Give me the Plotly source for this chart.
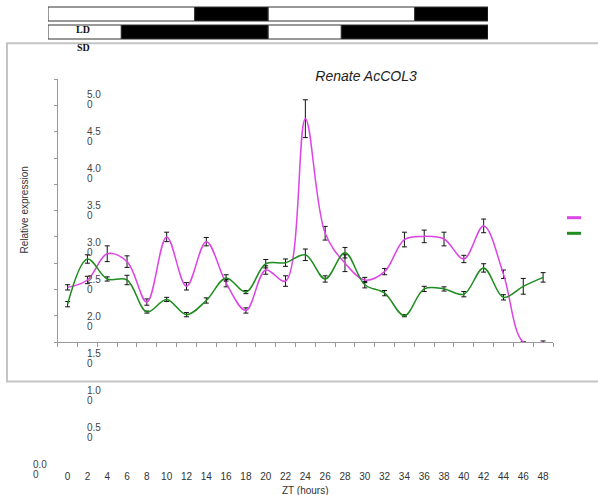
import plotly.graph_objects as go

W, H = 598, 495

# ---------------- data ----------------
zt = list(range(0, 49, 2))
ld_sd_magenta = [1.04, 1.18, 1.68, 1.53, 0.76, 2.00, 1.06, 1.91, 1.12, 0.60, 1.37, 1.16, 4.25,
                 2.07, 1.50, 1.18, 1.34, 1.95, 2.01, 1.96, 1.58, 2.21, 1.29, 0.0, 0.0]
err_magenta = [0.05, 0.07, 0.15, 0.11, 0.06, 0.09, 0.07, 0.08, 0.07, 0.05, 0.08, 0.10, 0.36,
               0.13, 0.16, 0.05, 0.06, 0.14, 0.12, 0.13, 0.07, 0.13, 0.08, 0.0, 0.02]
green = [0.72, 1.58, 1.20, 1.18, 0.57, 0.81, 0.52, 0.79, 1.22, 0.95, 1.49, 1.51, 1.66,
         1.20, 1.70, 1.09, 0.93, 0.50, 1.01, 1.01, 0.91, 1.41, 0.85, 1.06, 1.23]
err_green = [0.05, 0.08, 0.04, 0.09, 0.02, 0.04, 0.04, 0.05, 0.06, 0.03, 0.08, 0.07, 0.11,
             0.06, 0.10, 0.06, 0.05, 0.02, 0.05, 0.04, 0.05, 0.08, 0.05, 0.15, 0.09]

ytick_vals = [0.0, 0.5, 1.0, 1.5, 2.0, 2.5, 3.0, 3.5, 4.0, 4.5, 5.0]
ytick_text = ["0.00", "0.50", "1.00", "1.50", "2.00", "2.50", "3.00", "3.50", "4.00", "4.50", "5.00"]

# light/dark schedule (hours)
photo_rows = ["LD", "LD", "SD", "SD"]
light_start = [0, 24, 0, 24]
light_len = [16, 16, 8, 8]
dark_start = [16, 40, 8, 32]
dark_len = [8, 8, 16, 16]

MAG = "#dd44e6"
GRN = "#1e8c1e"


def py(p):
    return 1 - p / H


def px(p):
    return p / W


fig = go.Figure()

fig.add_trace(go.Scatter(
    x=zt, y=ld_sd_magenta, mode="lines", line=dict(color=MAG, width=1.5, shape="spline", smoothing=1),
    error_y=dict(type="data", array=err_magenta, color="#111", thickness=1, width=2.5),
    showlegend=False, hoverinfo="skip"))
fig.add_trace(go.Scatter(
    x=zt, y=green, mode="lines", line=dict(color=GRN, width=1.5, shape="spline", smoothing=1),
    error_y=dict(type="data", array=err_green, color="#111", thickness=1, width=2.5),
    showlegend=False, hoverinfo="skip"))

# dummy trace to create the label axes subplot
fig.add_trace(go.Scatter(x=zt, y=[None] * len(zt), xaxis="x2", yaxis="y2",
                         showlegend=False, hoverinfo="skip"))

# photoperiod bars
fig.add_trace(go.Bar(y=photo_rows, x=light_len, base=light_start, orientation="h",
                     marker=dict(color="white", line=dict(color="#333", width=1)),
                     xaxis="x3", yaxis="y3", showlegend=False, hoverinfo="skip"))
fig.add_trace(go.Bar(y=photo_rows, x=dark_len, base=dark_start, orientation="h",
                     marker=dict(color="black", line=dict(color="#333", width=1)),
                     xaxis="x3", yaxis="y3", showlegend=False, hoverinfo="skip"))

x_dom = [px(57.7), px(553)]

annotations = []
# misplaced tick labels
for v, t in zip(ytick_vals, ytick_text):
    xl = px(31) if v == 0 else px(85)
    annotations.append(dict(x=xl, xref="paper", y=v, yref="y2", text=t[:3], showarrow=False,
                            xanchor="left", yanchor="middle", yshift=5,
                            font=dict(family="Liberation Sans, Arial", size=10, color="#444")))
    annotations.append(dict(x=xl, xref="paper", y=v, yref="y2", text=t[3:], showarrow=False,
                            xanchor="left", yanchor="middle", yshift=-5,
                            font=dict(family="Liberation Sans, Arial", size=10, color="#444")))

annotations.append(dict(x=24, xref="x2", y=py(490), yref="paper", text="ZT (hours)", showarrow=False,
                        xanchor="center", yanchor="middle",
                        font=dict(family="Liberation Sans, Arial", size=10, color="#333")))
annotations.append(dict(x=px(23.5), xref="paper", y=py(210), yref="paper", text="Relative expression",
                        textangle=-90, showarrow=False, xanchor="center", yanchor="middle",
                        font=dict(family="Liberation Sans, Arial", size=10, color="#333")))
annotations.append(dict(x=px(83), xref="paper", y=py(29), yref="paper", text="<b>LD</b>", showarrow=False,
                        xanchor="center", yanchor="middle",
                        font=dict(family="Liberation Serif, DejaVu Serif", size=10, color="#111")))
annotations.append(dict(x=px(83), xref="paper", y=py(48), yref="paper", text="<b>SD</b>", showarrow=False,
                        xanchor="center", yanchor="middle",
                        font=dict(family="Liberation Serif, DejaVu Serif", size=10, color="#111")))

shapes = [
    dict(type="rect", xref="paper", yref="paper", x0=px(7), x1=1.01, y0=py(381.5), y1=py(43.2),
         line=dict(color="#c4c4c4", width=2), fillcolor="rgba(0,0,0,0)", layer="below"),
    dict(type="line", xref="paper", yref="paper", x0=px(567), x1=px(581), y0=py(217.7), y1=py(217.7),
         line=dict(color=MAG, width=3)),
    dict(type="line", xref="paper", yref="paper", x0=px(567), x1=px(581), y0=py(233.3), y1=py(233.3),
         line=dict(color=GRN, width=3)),
]

fig.update_layout(
    width=W, height=H, margin=dict(l=0, r=0, t=0, b=0),
    paper_bgcolor="white", plot_bgcolor="rgba(0,0,0,0)",
    showlegend=False, barmode="overlay", bargap=0.222,
    title=dict(text="<i>Renate AcCOL3</i>", x=px(366), y=py(76), xanchor="center", yanchor="middle",
               font=dict(family="Liberation Sans, Arial", size=14, color="#222")),
    xaxis=dict(domain=x_dom, range=[-1, 49], tickvals=list(range(-1, 50, 2)), ticks="outside",
               ticklen=4, tickcolor="#999", showticklabels=False, showline=True, linecolor="#999",
               linewidth=1, showgrid=False, zeroline=False, anchor="y", fixedrange=True),
    yaxis=dict(domain=[py(342), py(79.3)], range=[0, 5], tickvals=ytick_vals, ticks="outside",
               ticklen=3, tickcolor="#999", showticklabels=False, showline=True, linecolor="#999",
               linewidth=1, showgrid=False, zeroline=False, anchor="x"),
    xaxis2=dict(domain=x_dom, range=[-1, 49], tickvals=zt, ticktext=[str(z) for z in zt],
                anchor="free", position=py(469), overlaying="x", showline=False, ticks="",
                showgrid=False, zeroline=False,
                tickfont=dict(family="Liberation Sans, Arial", size=10, color="#333")),
    yaxis2=dict(domain=[py(469.5), py(100)], range=[0, 5], visible=False, anchor="x2"),
    xaxis3=dict(domain=[px(48), px(488)], range=[0, 48], visible=False, anchor="y3"),
    yaxis3=dict(domain=[py(41), py(5)], categoryorder="array", categoryarray=["SD", "LD"],
                visible=False, anchor="x3"),
    annotations=annotations, shapes=shapes,
)

fig.write_html("out.html")
